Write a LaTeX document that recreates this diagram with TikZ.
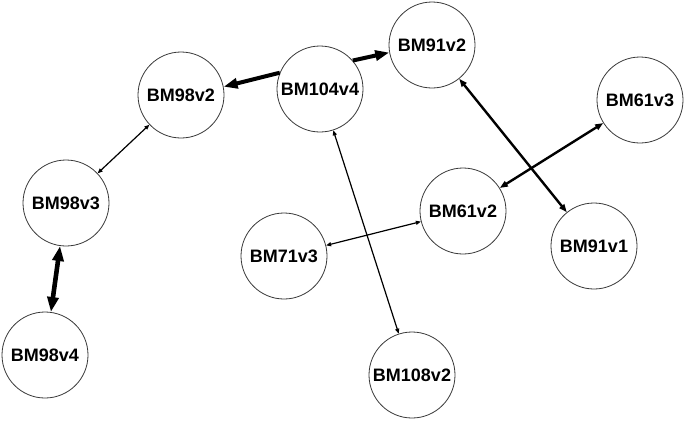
\documentclass[tikz,border=0pt]{standalone}
\usepackage{fontspec}
\setmainfont{Liberation Sans}
\usepackage{xcolor}
\usetikzlibrary{arrows.meta}
\definecolor{edgec}{HTML}{000000}
\definecolor{rimc}{HTML}{3A3A3A}
\tikzset{
  nd/.style={circle,draw=rimc,line width=0.8pt,fill=white,minimum size=86pt,inner sep=0pt,font=\fontsize{18}{20}\selectfont\bfseries},
  thin ar/.style={{Triangle[length=5pt,width=4pt]}-{Triangle[length=5pt,width=4pt]},line width=1.2pt,edgec},
  mid ar/.style={{Triangle[length=8pt,width=6pt]}-{Triangle[length=8pt,width=6pt]},line width=2.4pt,edgec},
  fat ar/.style={-{Triangle[length=14pt,width=10pt]},line width=4pt,edgec},
  fat ar2/.style={{Triangle[length=15pt,width=11pt]}-{Triangle[length=15pt,width=11pt]},line width=4.6pt,edgec}
}

\begin{document}
\begin{tikzpicture}[x=1pt,y=-1pt]
\useasboundingbox (0,0) rectangle (685,421);
\node[nd] (n91b) at (432,45) {BM91v2};
\node[nd] (n98b) at (181,95) {BM98v2};
\node[nd] (n104) at (320,89) {BM104v4};
\node[nd] (n61c) at (640,100) {BM61v3};
\node[nd] (n98c) at (66,203) {BM98v3};
\node[nd] (n61b) at (463,211) {BM61v2};
\node[nd] (n91a) at (594,246) {BM91v1};
\node[nd] (n71c) at (284,256) {BM71v3};
\node[nd] (n98d) at (45,355) {BM98v4};
\node[nd] (n108) at (412,375) {BM108v2};
% edges
\draw[fat ar] (n104.158) -- (n98b.11);
\draw[fat ar] (n104.41) -- (n91b.190);
\draw[thin ar] (n98b) -- (n98c);
\draw[fat ar2] (n98c) -- (n98d);
\draw[mid ar] (n91b) -- (n91a);
\draw[mid ar] (n61b) -- (n61c);
\draw[thin ar] (n71c) -- (n61b);
\draw[thin ar] (n104) -- (n108);
\end{tikzpicture}
\end{document}
